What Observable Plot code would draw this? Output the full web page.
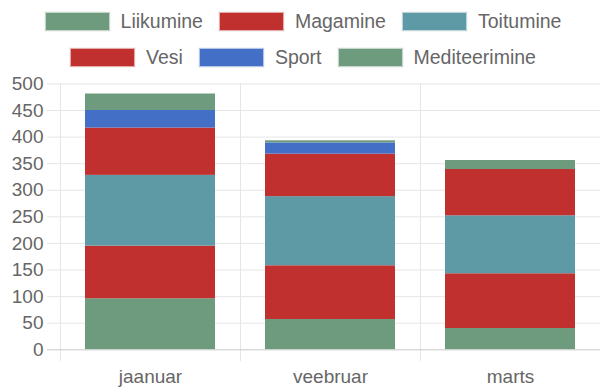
<!DOCTYPE html>
<html>
<head>
<meta charset="utf-8">
<script src="https://cdn.jsdelivr.net/npm/d3@7"></script>
<script src="https://cdn.jsdelivr.net/npm/@observablehq/plot@0.6"></script>
<style>
  html, body { margin: 0; padding: 0; background: #fff; }
  body { width: 600px; height: 389px; overflow: hidden; font-family: "Liberation Sans", Arial, sans-serif; color: #666; }
  #legend { height: 74px; box-sizing: border-box; padding-top: 4px; padding-left: 6px; }
  .row { display: flex; justify-content: center; align-items: center; height: 35.5px; }
  .item { display: flex; align-items: center; margin: 0 8px; font-size: 19.5px; color: #666; }
  .sw { width: 63px; height: 17px; margin-right: 11px; border: 1px solid rgba(255,255,255,0.6); box-shadow: 0 0 0 0.5px rgba(0,0,0,0.08); }
  #chart svg { display: block; }
</style>
</head>
<body>
<div id="legend"></div>
<div id="chart"></div>
<script>
const months = ["jaanuar", "veebruar", "marts"];
const seriesNames = ["Liikumine", "Magamine", "Toitumine", "Vesi", "Sport", "Mediteerimine"];
const seriesColors = ["#6e9b7d", "#c0302e", "#5e9aa5", "#c0302e", "#436fc7", "#6e9b7d"];
const liikumine = [96, 57, 40];
const magamine = [99, 101, 103];
const toitumine = [133, 130, 109];
const vesi = [89, 80, 87];
const sport = [33, 21, 0];
const mediteerimine = [31, 4, 17];
const yTicks = [0, 50, 100, 150, 200, 250, 300, 350, 400, 450, 500];

const seriesValues = [liikumine, magamine, toitumine, vesi, sport, mediteerimine];
const data = [];
seriesNames.forEach((s, i) => months.forEach((m, j) => data.push({month: m, series: s, value: seriesValues[i][j]})));

// legend
const legend = document.getElementById("legend");
[seriesNames.slice(0, 3), seriesNames.slice(3)].forEach((names, r) => {
  const row = document.createElement("div");
  row.className = "row";
  names.forEach((n, k) => {
    const idx = r * 3 + k;
    const it = document.createElement("div");
    it.className = "item";
    const sw = document.createElement("span");
    sw.className = "sw";
    sw.style.background = seriesColors[idx];
    const tx = document.createElement("span");
    tx.textContent = n;
    it.appendChild(sw); it.appendChild(tx);
    row.appendChild(it);
  });
  legend.appendChild(row);
});

const step = 180;
const chart = Plot.plot({
  width: 600,
  height: 315,
  marginLeft: 60,
  marginRight: 0,
  marginTop: 9.4,
  marginBottom: 39.7,
  style: {fontFamily: "Liberation Sans, Arial, sans-serif", fontSize: "19px", color: "#666", background: "#fff"},
  x: {domain: months, paddingInner: 0.278, paddingOuter: 0.139, label: null},
  y: {domain: [0, 500], label: null},
  color: {domain: seriesNames, range: seriesColors},
  marks: [
    Plot.ruleY(yTicks.filter(d => d > 0), {stroke: "#e6e6e6", strokeWidth: 1, insetLeft: -13}),
    Plot.ruleX(months, {x: d => d, dx: -step / 2, stroke: "#e6e6e6", strokeWidth: 1, insetBottom: -12}),
    Plot.barY(data, {x: "month", y: "value", fill: "series", order: seriesNames}),
    Plot.ruleY([0], {stroke: "#c8c8c8", strokeWidth: 1, insetLeft: -13}),
    Plot.axisY({ticks: yTicks, tickSize: 0, tickPadding: 17, fontSize: 19, color: "#666"}),
    Plot.axisX({tickSize: 0, tickPadding: 20, fontSize: 19, color: "#666"})
  ]
});
document.getElementById("chart").appendChild(chart);
</script>
</body>
</html>
